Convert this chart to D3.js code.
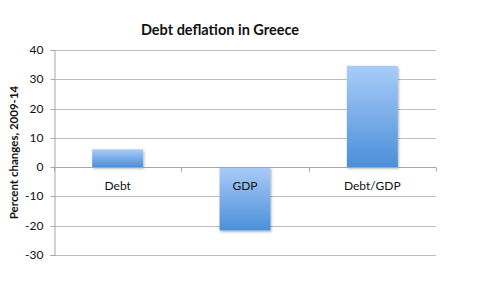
<!DOCTYPE html>
<html>
<head>
<meta charset="utf-8">
<script src="https://cdn.jsdelivr.net/npm/d3@7"></script>
<style>
  body { margin: 0; background: #fff; }
  text { font-family: Lato, "Open Sans", sans-serif; }
</style>
</head>
<body>
<svg class="chart" width="480" height="299"></svg>
<script>
// Debt deflation in Greece - column chart

var categories = ["Debt", "GDP", "Debt/GDP"];
var values = [6.1, -21.6, 34.6];
var yTicks = [-30, -20, -10, 0, 10, 20, 30, 40];

var svg = d3.select(".chart");

var margin = { top: 50, left: 54, right: 44, bottom: 43 };
var width = 480 - margin.left - margin.right,
    height = 299 - margin.top - margin.bottom;

var defs = svg.append("defs");
var grad = defs.append("linearGradient")
    .attr("id", "barGrad")
    .attr("x1", 0).attr("y1", 0).attr("x2", 0).attr("y2", 1);
grad.append("stop").attr("offset", "0%").attr("stop-color", "#a9ccf8");
grad.append("stop").attr("offset", "100%").attr("stop-color", "#4b8fd9");

var shadow = defs.append("filter").attr("id", "shadow")
    .attr("x", "-10%").attr("y", "-10%").attr("width", "130%").attr("height", "130%");
shadow.append("feDropShadow")
    .attr("dx", 1).attr("dy", 1.5).attr("stdDeviation", 1)
    .attr("flood-color", "#000").attr("flood-opacity", 0.3);

svg.append("text")
    .attr("x", 220)
    .attr("y", 35)
    .attr("text-anchor", "middle")
    .attr("font-size", "14.5px")
    .attr("font-weight", "bold")
    .attr("fill", "#111")
    .text("Debt deflation in Greece");

var g = svg.append("g")
    .attr("transform", "translate(" + margin.left + "," + margin.top + ")");

var x = d3.scaleBand()
    .domain(categories)
    .range([0, width])
    .paddingInner(0.6)
    .paddingOuter(0.3);

var y = d3.scaleLinear()
    .domain([-30, 40])
    .range([height - 1, 0]);

// gridlines
g.selectAll(".grid")
    .data(yTicks.filter(d => d !== 0))
    .enter().append("line")
    .attr("class", "grid")
    .attr("x1", 0)
    .attr("x2", width)
    .attr("y1", d => Math.round(y(d)) + 0.5)
    .attr("y2", d => Math.round(y(d)) + 0.5)
    .attr("stroke", "#bdbdbd")
    .attr("stroke-width", 1);

// y axis
var yAxis = g.append("g")
    .attr("transform", "translate(0.5,0)")
    .call(d3.axisLeft(y).tickValues(yTicks).tickSize(4).tickPadding(7)
        .tickFormat(d => String(d)));
yAxis.select(".domain").attr("stroke", "#a6a6a6");
yAxis.selectAll(".tick line").attr("stroke", "#a6a6a6");
yAxis.selectAll(".tick").attr("transform", d => "translate(0," + (Math.round(y(d)) + 0.5) + ")");
yAxis.selectAll("text")
    .attr("font-family", "Lato, 'Open Sans', sans-serif")
    .attr("font-size", "12px")
    .attr("fill", "#111");

svg.append("text")
    .attr("transform", "translate(18," + (margin.top + y(5)) + ") rotate(-90)")
    .attr("text-anchor", "middle")
    .attr("font-size", "11.5px")
    .attr("font-weight", "bold")
    .attr("fill", "#111")
    .text("Percent changes, 2009-14");

// bars
g.selectAll(".bar")
    .data(values)
    .enter().append("rect")
    .attr("class", "bar")
    .attr("x", (d, i) => x(categories[i]))
    .attr("width", x.bandwidth())
    .attr("y", d => y(Math.max(0, d)))
    .attr("height", d => Math.abs(y(d) - y(0)))
    .attr("fill", "url(#barGrad)")
    .attr("filter", "url(#shadow)");

// zero axis with category ticks
var zeroY = Math.round(y(0)) + 0.5;
g.append("line")
    .attr("x1", 0).attr("x2", width)
    .attr("y1", zeroY).attr("y2", zeroY)
    .attr("stroke", "#a6a6a6");

var bounds = d3.range(categories.length + 1).map(i => i * width / categories.length);
g.selectAll(".ctick")
    .data(bounds)
    .enter().append("line")
    .attr("x1", d => Math.round(d) + 0.5)
    .attr("x2", d => Math.round(d) + 0.5)
    .attr("y1", zeroY)
    .attr("y2", zeroY + 4)
    .attr("stroke", "#a6a6a6");

g.selectAll(".clabel")
    .data(categories)
    .enter().append("text")
    .attr("class", "clabel")
    .attr("x", d => x(d) + x.bandwidth() / 2)
    .attr("y", zeroY + 22)
    .attr("text-anchor", "middle")
    .attr("font-size", "12px")
    .attr("fill", "#111")
    .text(d => d);
</script>
</body>
</html>
